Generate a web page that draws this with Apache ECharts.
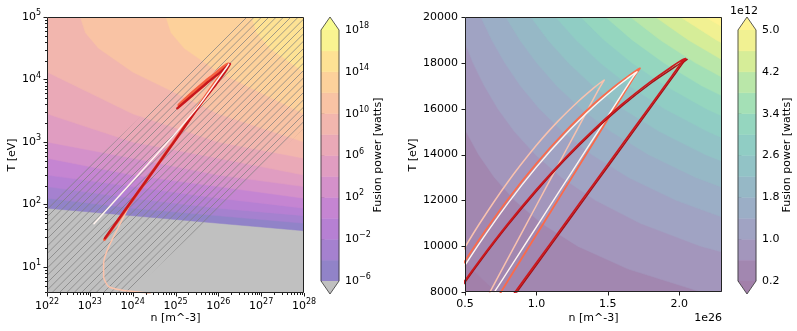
<!DOCTYPE html>
<html>
<head>
<meta charset="utf-8">
<script src="https://cdn.jsdelivr.net/npm/echarts@6/dist/echarts.min.js"></script>
<style>
html, body { margin: 0; padding: 0; background: #fff; }
#chart { width: 797px; height: 331px; }
</style>
</head>
<body>
<div id="chart"></div>
<script>
/**
 * fusion power maps: log view (left) and linear zoom (right)
 */
var FONT = 'DejaVu Sans';

// ---------- left panel: contour boundaries [n (m^-3), T (eV)], log10(W) levels ----------
var levelsLeft = [-6, -4, -2, 0, 2, 4, 6, 8, 10, 12, 14];
var bndLeft_m6 = [[2.5e29, 31.6], [1e28, 38], [1e26, 50.1], [1e24, 66.1], [1e22, 87.1], [1e20, 126]];
var bndLeft_m4 = [[2.5e31, 31.6], [1e30, 38], [1e28, 50.1], [1e26, 66.1], [1e24, 87.1], [1e22, 126], [1e20, 193]];
var bndLeft_m2 = [[1e32, 38], [1e30, 50.1], [1e28, 66.1], [1e26, 87.1], [1e24, 126], [1e22, 193], [1e20, 295]];
var bndLeft_0 = [[1e32, 50.1], [1e30, 66.1], [1e28, 87.1], [1e26, 126], [1e24, 193], [1e22, 295], [1e20, 550]];
var bndLeft_2 = [[1e32, 66.1], [1e30, 87.1], [1e28, 126], [1e26, 193], [1e24, 295], [1e22, 550], [1e20, 1000]];
var bndLeft_4 = [[1e32, 87.1], [1e30, 126], [1e28, 193], [1e26, 295], [1e24, 550], [1e22, 1000], [1e20, 2820]];
var bndLeft_6 = [[1e32, 126], [1e30, 193], [1e28, 295], [1e26, 550], [1e24, 1000], [1e22, 2820], [1e20, 13200]];
var bndLeft_8 = [[1e32, 193], [1e30, 295], [1e28, 550], [1e26, 1000], [1e24, 2820], [1e22, 13200], [1.6e21, 31600], [7.9e20, 56200], [6.0e20, 1e5], [5.6e20, 1.58e5]];
var bndLeft_10 = [[1e32, 295], [1e30, 550], [1e28, 1000], [1e26, 2820], [1e24, 13200], [1.6e23, 31600], [7.9e22, 56200], [6.0e22, 1e5], [5.6e22, 1.58e5]];
var bndLeft_12 = [[1e32, 550], [1e30, 1000], [1e28, 2820], [1e26, 13200], [1.6e25, 31600], [7.9e24, 56200], [6.0e24, 1e5], [5.6e24, 1.58e5]];
var bndLeft_14 = [[1e32, 1000], [1e30, 2820], [1e28, 13200], [1.6e27, 31600], [7.9e26, 56200], [6.0e26, 1e5], [5.6e26, 1.58e5]];
var boundsLeft = [bndLeft_m6, bndLeft_m4, bndLeft_m2, bndLeft_0, bndLeft_2, bndLeft_4, bndLeft_6, bndLeft_8, bndLeft_10, bndLeft_12, bndLeft_14];

// plasma, alpha 0.5 on white
var bandColorsLeft = ['#9183c8', '#a581cf', '#b680d3', '#c585d2', '#d491ca', '#e09dc1', '#eaa9b7', '#f2b6ae', '#f9c3a4', '#fdd19b', '#fee294', '#faf391'];
var underLeft = '#c0c0c0';
var overLeft = '#f8fc90';

// hatched band between two adiabats
var hatchUpper = [[1e21, 21.3], [1e29, 3.37e6]];
var hatchLower = [[1e29, 7410], [1e21, 0.0468]];

// trajectories, left panel
var trajLeftPeach = [[2.6e24, 3.7], [1.8e24, 3.9], [6.2e23, 4.2], [2.75e23, 4.84], [2.1e23, 7.0], [2.1e23, 11.5], [2.75e23, 21], [4.7e23, 44], [9.5e23, 111], [1e25, 1100], [6.7e25, 7900], [1.02e26, 11700], [1.35e26, 15450], [1.47e26, 17250], [1.3e26, 16550], [1e26, 14600], [5e25, 9960], [2.5e25, 6600], [1.3e25, 4300]];
var trajLeftOrange = [[2.2e23, 27.5], [1e24, 118], [1e25, 1100], [7.5e25, 8000], [1e26, 10500], [1.45e26, 15000], [1.72e26, 17750], [1.5e26, 16900], [1.05e26, 14100], [7.5e25, 11600], [5e25, 9350], [2.5e25, 6200], [1.2e25, 3900]];
var trajLeftRed = [[2.26e23, 28.8], [1e24, 120], [1e25, 1080], [4e25, 4200], [8.3e25, 7900], [1.1e26, 10350], [1.55e26, 14300], [1.87e26, 17700], [1.6e26, 16250], [1e26, 12300], [5e25, 8400], [2.5e25, 5600], [1.1e25, 3460]];
var trajLeftWhite = [[1.25e23, 49], [5.2e24, 830], [3.7e25, 4000], [1.6e26, 16000], [1.75e26, 17600]];

// ---------- right panel: boundaries [n (1e26 m^-3), T (eV)], levels in 1e12 W ----------
var levelsRight = [0.2, 0.6, 1.0, 1.4, 1.8, 2.2, 2.6, 3.0, 3.4, 3.8, 4.2, 4.6, 5.0];
var bndRight_02 = [[0.833, 7500], [0.719, 8000], [0.548, 9000], [0.430, 10000]];
var bndRight_06 = [[2.50, 7500], [2.156, 8000], [1.644, 9000], [1.290, 10000], [1.036, 11000], [0.848, 12000], [0.706, 13000], [0.595, 14000], [0.508, 15000], [0.438, 16000]];
var bndRight_10 = [[3.593, 8000], [2.740, 9000], [2.150, 10000], [1.727, 11000], [1.414, 12000], [1.176, 13000], [0.992, 14000], [0.846, 15000], [0.730, 16000], [0.635, 17000], [0.556, 18000], [0.491, 19000], [0.437, 20000]];
var bndRight_14 = [[3.010, 10000], [2.418, 11000], [1.979, 12000], [1.646, 13000], [1.388, 14000], [1.185, 15000], [1.021, 16000], [0.888, 17000], [0.779, 18000], [0.688, 19000], [0.611, 20000], [0.578, 20500]];
var bndRight_18 = [[3.109, 11000], [2.545, 12000], [2.117, 13000], [1.785, 14000], [1.523, 15000], [1.313, 16000], [1.142, 17000], [1.002, 18000], [0.884, 19000], [0.786, 20000], [0.743, 20500]];
var bndRight_22 = [[3.110, 12000], [2.587, 13000], [2.182, 14000], [1.862, 15000], [1.605, 16000], [1.396, 17000], [1.224, 18000], [1.081, 19000], [0.961, 20000], [0.908, 20500]];
var bndRight_26 = [[3.058, 13000], [2.579, 14000], [2.200, 15000], [1.897, 16000], [1.650, 17000], [1.447, 18000], [1.278, 19000], [1.135, 20000], [1.073, 20500]];
var bndRight_30 = [[3.528, 13000], [2.975, 14000], [2.539, 15000], [2.189, 16000], [1.904, 17000], [1.669, 18000], [1.474, 19000], [1.310, 20000], [1.238, 20500]];
var bndRight_34 = [[3.372, 14000], [2.877, 15000], [2.480, 16000], [2.158, 17000], [1.892, 18000], [1.671, 19000], [1.485, 20000], [1.403, 20500]];
var bndRight_38 = [[3.216, 15000], [2.772, 16000], [2.412, 17000], [2.114, 18000], [1.867, 19000], [1.659, 20000], [1.568, 20500]];
var bndRight_42 = [[3.064, 16000], [2.665, 17000], [2.337, 18000], [2.064, 19000], [1.834, 20000], [1.733, 20500]];
var bndRight_46 = [[3.356, 16000], [2.919, 17000], [2.560, 18000], [2.260, 19000], [2.009, 20000], [1.898, 20500]];
var bndRight_50 = [[3.173, 17000], [2.782, 18000], [2.457, 19000], [2.183, 20000], [2.063, 20500]];
var boundsRight = [bndRight_02, bndRight_06, bndRight_10, bndRight_14, bndRight_18, bndRight_22, bndRight_26, bndRight_30, bndRight_34, bndRight_38, bndRight_42, bndRight_46, bndRight_50];

// viridis, alpha 0.5 on white
var bandColorsRight = ['#a287b0', '#a396bc', '#a0a3c3', '#9baec6', '#96b8c6', '#92c3c6', '#90cdc4', '#95d6bf', '#a4e0b6', '#bae7a9', '#d6ed98', '#f1f192'];
var underRight = '#a280aa';
var overRight = '#fef392';

// trajectories, right panel (closed loops: lower branch up to the tip, upper branch back down)
var loopPeach = [[0.62, 7361], [0.8, 9452], [1.0, 11775], [1.2, 14098], [1.35, 15841], [1.44, 16886], [1.475, 17250], [1.45, 17141], [1.4, 16895], [1.3, 16359], [1.15, 15445], [1.0, 14400], [0.8, 12800], [0.6, 10966], [0.45, 9435]];
var loopWhite = [[0.65, 7459], [0.85, 9391], [1.05, 11322], [1.25, 13254], [1.45, 15186], [1.6, 16634], [1.68, 17407], [1.705, 17610], [1.69, 17556], [1.65, 17375], [1.55, 16892], [1.4, 16084], [1.2, 14854], [1.0, 13449], [0.8, 11868], [0.6, 10113], [0.45, 8681]];
var loopOrange = [[0.70, 7476], [0.9, 9491], [1.1, 11505], [1.3, 13519], [1.5, 15534], [1.65, 17045], [1.70, 17548], [1.725, 17760], [1.70, 17666], [1.65, 17449], [1.55, 16980], [1.4, 16192], [1.2, 14986], [1.0, 13600], [0.8, 12035], [0.6, 10289], [0.45, 8863]];
var loopRed = [[0.80, 7555], [1.0, 9272], [1.2, 10989], [1.4, 12706], [1.6, 14423], [1.8, 16140], [1.95, 17428], [2.02, 18029], [2.045, 18180], [2.02, 18122], [1.95, 17839], [1.8, 17180], [1.6, 16192], [1.4, 15077], [1.2, 13835], [1.0, 12468], [0.8, 10975], [0.6, 9356], [0.45, 8058]];
var loopRed2 = [[0.812, 7555], [1.012, 9272], [1.212, 10989], [1.412, 12706], [1.612, 14423], [1.812, 16140], [1.962, 17428], [2.032, 18029], [2.056, 18150], [2.03, 18070], [1.96, 17780], [1.8, 17100], [1.6, 16120], [1.4, 15005], [1.2, 13765], [1.0, 12398], [0.8, 10905], [0.6, 9286], [0.45, 7988]];

// axis ticks
var nTicksLeft = [1e22, 1e23, 1e24, 1e25, 1e26, 1e27, 1e28];
var TTicksLeft = [1e1, 1e2, 1e3, 1e4, 1e5];
var nTicksRight = [0.5, 1.0, 1.5, 2.0];
var TTicksRight = [8000, 10000, 12000, 14000, 16000, 18000, 20000];

function minorLog(lo, hi) {
    var out = [];
    for (var e = Math.floor(Math.log10(lo)); e <= Math.ceil(Math.log10(hi)); e++) {
        for (var k = 2; k <= 9; k++) {
            var v = k * Math.pow(10, e);
            if (v > lo && v < hi) out.push(v);
        }
    }
    return out;
}

function expText(r) {
    return r < 0 ? '\u2212' + (-r) : '' + r;
}
function sciLabel(v) {
    var e = Math.log10(v), r = Math.round(e);
    if (Math.abs(e - r) > 1e-6) return '';
    return '{b|10}{s|' + expText(r) + '}';
}
var sciRich = {
    b: { fontSize: 11, fontFamily: FONT, color: '#000', lineHeight: 16 },
    s: { fontSize: 8, fontFamily: FONT, color: '#000', lineHeight: 10, verticalAlign: 'top' }
};

function contourRenderer(bounds, colors, under, bigN, bigT) {
    return function (params, api) {
        var cs = params.coordSys;
        var kids = [{
            type: 'rect',
            shape: { x: cs.x, y: cs.y, width: cs.width, height: cs.height },
            style: { fill: under }
        }];
        bounds.forEach(function (b, i) {
            var a = b[0], z = b[b.length - 1];
            var ring = b.concat([[z[0], bigT], [bigN, bigT], [bigN, a[1]]]);
            kids.push({
                type: 'polygon',
                shape: { points: ring.map(function (p) { return api.coord(p); }) },
                style: { fill: colors[i], stroke: colors[i], lineWidth: 0.5 }
            });
        });
        return { type: 'group', children: kids };
    };
}

function hatchPattern() {
    var s = 22, c = document.createElement('canvas');
    c.width = s; c.height = s;
    var g = c.getContext('2d');
    g.strokeStyle = 'rgba(125,125,125,0.8)';
    g.lineWidth = 0.9;
    for (var k = -3; k <= 6; k++) {
        var o = k * s / 3;
        g.beginPath();
        g.moveTo(o + s, -s);
        g.lineTo(o - 2 * s, 2 * s);
        g.stroke();
    }
    return c;
}
var hatchImg = hatchPattern();

function tickRenderer(xMajor, xMinor, yMajor, yMinor, xRef, yRef) {
    return function (params, api) {
        var cs = params.coordSys;
        var bottom = cs.y + cs.height, left = cs.x;
        var kids = [];
        function seg(x1, y1, x2, y2) {
            kids.push({ type: 'line', shape: { x1: x1, y1: y1, x2: x2, y2: y2 }, style: { stroke: '#000', lineWidth: 0.9 } });
        }
        xMajor.forEach(function (v) { var x = Math.round(api.coord([v, yRef])[0]) + 0.5; seg(x, bottom, x, bottom + 3.5); });
        xMinor.forEach(function (v) { var x = Math.round(api.coord([v, yRef])[0]) + 0.5; seg(x, bottom, x, bottom + 2); });
        yMajor.forEach(function (v) { var y = Math.round(api.coord([xRef, v])[1]) + 0.5; seg(left, y, left - 3.5, y); });
        yMinor.forEach(function (v) { var y = Math.round(api.coord([xRef, v])[1]) + 0.5; seg(left, y, left - 2, y); });
        kids.push({
            type: 'rect',
            shape: { x: Math.round(cs.x) + 0.5, y: Math.round(cs.y) + 0.5, width: Math.round(cs.width) - 1, height: Math.round(cs.height) - 1 },
            style: { fill: null, stroke: '#222', lineWidth: 1 }
        });
        return { type: 'group', children: kids };
    };
}

function colorbarRenderer(colors, under, over) {
    return function (params, api) {
        var kids = [];
        var n = colors.length, tri = 13;
        for (var i = 0; i < n; i++) {
            var p0 = api.coord([0, i]), p1 = api.coord([1, i + 1]);
            kids.push({ type: 'rect', shape: { x: p0[0], y: p1[1], width: p1[0] - p0[0], height: p0[1] - p1[1] }, style: { fill: colors[i], stroke: colors[i], lineWidth: 0.5 } });
        }
        var bl = api.coord([0, 0]), br = api.coord([1, 0]), tl = api.coord([0, n]), tr = api.coord([1, n]);
        var cx = (bl[0] + br[0]) / 2;
        kids.push({ type: 'polygon', shape: { points: [bl, br, [cx, bl[1] + tri]] }, style: { fill: under } });
        kids.push({ type: 'polygon', shape: { points: [tl, tr, [cx, tl[1] - tri]] }, style: { fill: over } });
        kids.push({ type: 'polygon', shape: { points: [[cx, bl[1] + tri], bl, tl, [cx, tl[1] - tri], tr, br] }, style: { fill: null, stroke: '#333', lineWidth: 0.8 } });
        return { type: 'group', children: kids };
    };
}

var chart = echarts.init(document.getElementById('chart'), null, { renderer: 'canvas' });

function lineSeries(xi, data, color, width, z, smooth) {
    return {
        type: 'line', xAxisIndex: xi, yAxisIndex: xi, data: data,
        showSymbol: false, symbol: 'none', clip: true, z: z, silent: true,
        smooth: smooth || false,
        lineStyle: { color: color, width: width, cap: 'round', join: 'round' }
    };
}

var axisText = { fontSize: 11, fontFamily: FONT, color: '#000' };

var option = {
    animation: false,
    backgroundColor: '#fff',
    grid: [
        { left: 47, top: 17, width: 257, height: 276, outerBoundsMode: 'none' },
        { left: 465, top: 17, width: 257, height: 275, outerBoundsMode: 'none' },
        { left: 321, top: 30, width: 18, height: 251, outerBoundsMode: 'none' },
        { left: 738, top: 30, width: 18, height: 251, outerBoundsMode: 'none' }
    ],
    xAxis: [
        {
            gridIndex: 0, type: 'log', logBase: 10, min: 1e22, max: 1e28,
            axisLine: { show: false }, axisTick: { show: false }, splitLine: { show: false },
            axisLabel: { margin: 5, formatter: sciLabel, rich: sciRich }
        },
        {
            gridIndex: 1, type: 'value', min: 0.5, max: 2.3, interval: 0.5,
            axisLine: { show: false }, axisTick: { show: false }, splitLine: { show: false },
            axisLabel: Object.assign({ margin: 7, showMaxLabel: false, formatter: function (v) { return v.toFixed(1); } }, axisText)
        },
        { gridIndex: 2, type: 'value', min: 0, max: 1, show: false },
        { gridIndex: 3, type: 'value', min: 0, max: 1, show: false }
    ],
    yAxis: [
        {
            gridIndex: 0, type: 'log', logBase: 10, min: 3.83, max: 1e5,
            axisLine: { show: false }, axisTick: { show: false }, splitLine: { show: false },
            axisLabel: { margin: 6, formatter: sciLabel, rich: sciRich }
        },
        {
            gridIndex: 1, type: 'value', min: 8000, max: 20000, interval: 2000,
            axisLine: { show: false }, axisTick: { show: false }, splitLine: { show: false },
            axisLabel: Object.assign({ margin: 7, formatter: function (v) { return String(Math.round(v)); } }, axisText)
        },
        {
            gridIndex: 2, type: 'value', min: 0, max: 12, interval: 2, position: 'right',
            axisLine: { show: false }, splitLine: { show: false },
            axisTick: { show: true, length: 3.5, lineStyle: { color: '#000', width: 0.9 } },
            axisLabel: { margin: 6, formatter: function (v) { return '{b|10}{s|' + expText(-6 + 2 * v) + '}'; }, rich: sciRich }
        },
        {
            gridIndex: 3, type: 'value', min: 0, max: 12, interval: 2, position: 'right',
            axisLine: { show: false }, splitLine: { show: false },
            axisTick: { show: true, length: 3.5, lineStyle: { color: '#000', width: 0.9 } },
            axisLabel: Object.assign({ margin: 6, formatter: function (v) { return (0.2 + 0.4 * v).toFixed(1); } }, axisText)
        }
    ],
    series: [
        {
            type: 'custom', xAxisIndex: 0, yAxisIndex: 0, clip: true, z: 1, silent: true,
            data: [[1e25, 1000]], encode: { x: 0, y: 1 },
            renderItem: contourRenderer(boundsLeft, bandColorsLeft, underLeft, 1e40, 1e12)
        },
        {
            type: 'custom', xAxisIndex: 0, yAxisIndex: 0, clip: true, z: 2, silent: true,
            data: [[1e25, 1000]], encode: { x: 0, y: 1 },
            renderItem: function (params, api) {
                var pts = hatchUpper.concat(hatchLower).map(function (p) { return api.coord(p); });
                return { type: 'polygon', shape: { points: pts }, style: { fill: { image: hatchImg, repeat: 'repeat' } } };
            }
        },
        lineSeries(0, trajLeftPeach, '#fcc3ab', 1.5, 3, 0.2),
        lineSeries(0, trajLeftOrange, '#f4603f', 3, 4, 0.2),
        lineSeries(0, trajLeftRed, '#c8171c', 2.4, 5, 0.2),
        lineSeries(0, trajLeftWhite, '#fff3ee', 1.5, 6, 0.2),
        {
            type: 'custom', xAxisIndex: 0, yAxisIndex: 0, z: 10, silent: true,
            data: [[1e25, 1000]], encode: { x: 0, y: 1 },
            renderItem: tickRenderer(nTicksLeft, minorLog(1e22, 1e28), TTicksLeft, minorLog(3.83, 1e5), 1e25, 1000)
        },
        {
            type: 'custom', xAxisIndex: 1, yAxisIndex: 1, clip: true, z: 1, silent: true,
            data: [[1, 10000]], encode: { x: 0, y: 1 },
            renderItem: contourRenderer(boundsRight, bandColorsRight.concat([overRight]), underRight, 50, 1e5)
        },
        lineSeries(1, loopPeach, '#f9c2ae', 1.5, 3, 0.3),
        lineSeries(1, loopOrange, '#fb6a4a', 1.8, 4, 0.3),
        lineSeries(1, loopWhite, '#fff5f0', 1.4, 5, 0.3),
        lineSeries(1, loopRed2, '#a50f15', 1.4, 6, 0.3),
        lineSeries(1, loopRed, '#cb181d', 1.8, 7, 0.3),
        {
            type: 'custom', xAxisIndex: 1, yAxisIndex: 1, z: 10, silent: true,
            data: [[1, 10000]], encode: { x: 0, y: 1 },
            renderItem: tickRenderer(nTicksRight, [], TTicksRight, [], 1, 10000)
        },
        {
            type: 'custom', xAxisIndex: 2, yAxisIndex: 2, z: 2, silent: true,
            data: [[0.5, 6]], encode: { x: 0, y: 1 },
            renderItem: colorbarRenderer(bandColorsLeft, underLeft, overLeft)
        },
        {
            type: 'custom', xAxisIndex: 3, yAxisIndex: 3, z: 2, silent: true,
            data: [[0.5, 6]], encode: { x: 0, y: 1 },
            renderItem: colorbarRenderer(bandColorsRight, underRight, overRight)
        }
    ],
    graphic: [
        { type: 'text', x: 175.5, y: 318, style: { text: 'n [m^-3]', textAlign: 'center', textVerticalAlign: 'middle', font: '11px ' + FONT, fill: '#000' } },
        { type: 'text', x: 12, y: 155, rotation: Math.PI / 2, style: { text: 'T [eV]', textAlign: 'center', textVerticalAlign: 'middle', font: '11px ' + FONT, fill: '#000' } },
        { type: 'text', x: 593.5, y: 318, style: { text: 'n [m^-3]', textAlign: 'center', textVerticalAlign: 'middle', font: '11px ' + FONT, fill: '#000' } },
        { type: 'text', x: 413, y: 155, rotation: Math.PI / 2, style: { text: 'T [eV]', textAlign: 'center', textVerticalAlign: 'middle', font: '11px ' + FONT, fill: '#000' } },
        { type: 'text', x: 378, y: 155, rotation: Math.PI / 2, style: { text: 'Fusion power [watts]', textAlign: 'center', textVerticalAlign: 'middle', font: '11px ' + FONT, fill: '#000' } },
        { type: 'text', x: 787, y: 155, rotation: Math.PI / 2, style: { text: 'Fusion power [watts]', textAlign: 'center', textVerticalAlign: 'middle', font: '11px ' + FONT, fill: '#000' } },
        { type: 'text', x: 722, y: 318, style: { text: '1e26', textAlign: 'right', textVerticalAlign: 'middle', font: '11px ' + FONT, fill: '#000' } },
        { type: 'text', x: 744, y: 11, style: { text: '1e12', textAlign: 'center', textVerticalAlign: 'middle', font: '11px ' + FONT, fill: '#000' } }
    ]
};

chart.setOption(option);
</script>
</body>
</html>
